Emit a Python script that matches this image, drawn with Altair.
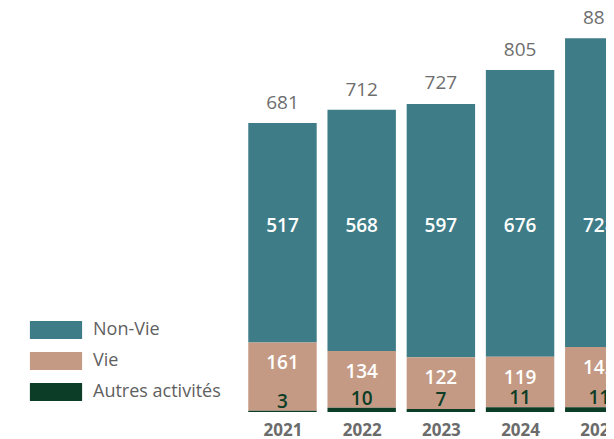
import altair as alt
import pandas as pd

years = [2021, 2022, 2023, 2024, 2025]
non_vie = [517, 568, 597, 676, 728]
vie = [161, 134, 122, 119, 142]
autres = [3, 10, 7, 11, 11]
totals = [681, 712, 727, 805, 881]
series = ["Non-Vie", "Vie", "Autres activités"]
colors = ["#3e7c87", "#c49a84", "#0b3d27"]

wide = pd.DataFrame({"year": years, "nonvie": non_vie, "vie": vie,
                     "autres": autres, "total": totals})
long = wide.melt(id_vars=["year"], value_vars=["nonvie", "vie", "autres"],
                 var_name="key", value_name="value")
long["series"] = long["key"].map({"nonvie": "Non-Vie", "vie": "Vie", "autres": "Autres activités"})
long["order"] = long["key"].map({"autres": 0, "vie": 1, "nonvie": 2})

FONT = "Open Sans"
xscale = alt.Scale(domain=[2017.534, 2025.085], nice=False, zero=False)
yscale = alt.Scale(domain=[0, 952], nice=False, zero=True)
xaxis = alt.Axis(values=years, format="d", title=None, domain=False, ticks=False,
                 grid=False, labelFont=FONT, labelFontSize=17, labelFontWeight="bold",
                 labelColor="#6b6b6b", labelPadding=10, labelFlush=False, labelOverlap=False)

bars = alt.Chart(long).transform_stack(
    stack="value", groupby=["year"], as_=["y0", "y1"],
    sort=[alt.SortField("order", order="ascending")]
).transform_calculate(
    x1="datum.year - 0.432", x2="datum.year + 0.432"
).mark_bar(clip=True).encode(
    x=alt.X("x1:Q", scale=xscale, axis=xaxis),
    x2="x2:Q",
    y=alt.Y("y0:Q", scale=yscale, axis=None),
    y2="y1:Q",
    color=alt.Color("series:N", scale=alt.Scale(domain=series, range=colors),
                    legend=alt.Legend(title=None, orient="none", legendX=39, legendY=313,
                                      symbolType="M-2.9,-1L2.9,-1L2.9,1L-2.9,1Z",
                                      symbolSize=324, symbolStrokeWidth=0, symbolOpacity=1,
                                      labelFont=FONT, labelFontSize=18, labelColor="#5f5f5f",
                                      labelOffset=28, rowPadding=13, padding=0)),
)

base = alt.Chart(wide).transform_calculate(vietop="datum.autres + datum.vie", nvpos="438")
X = alt.X("year:Q", scale=xscale, axis=xaxis)

total_lbl = base.mark_text(dy=-20, font=FONT, fontSize=19, fontWeight=500, color="#6e6e6e").encode(
    x=X, y=alt.Y("total:Q", scale=yscale, axis=None), text="total:Q")
nv_lbl = base.mark_text(font=FONT, fontSize=19, fontWeight=600, color="white").encode(
    x=X, y=alt.Y("nvpos:Q", scale=yscale, axis=None), text="nonvie:Q")
v_lbl = base.mark_text(dy=21, font=FONT, fontSize=19, fontWeight=600, color="white").encode(
    x=X, y=alt.Y("vietop:Q", scale=yscale, axis=None), text="vie:Q")
a_lbl = base.mark_text(baseline="bottom", dy=1, font=FONT, fontSize=19, fontWeight=600,
                       color="#0b3d27").encode(
    x=X, y=alt.Y("autres:Q", scale=yscale, axis=None), text="autres:Q")

chart = alt.layer(bars, total_lbl, nv_lbl, v_lbl, a_lbl).properties(
    width=598, height=404,
    autosize=alt.AutoSizeParams(type="none"),
    padding={"left": 0, "right": 0, "top": 0, "bottom": 27},
).configure_view(stroke=None)

chart.save("out.html", embed_options={"renderer": "svg", "actions": False})
